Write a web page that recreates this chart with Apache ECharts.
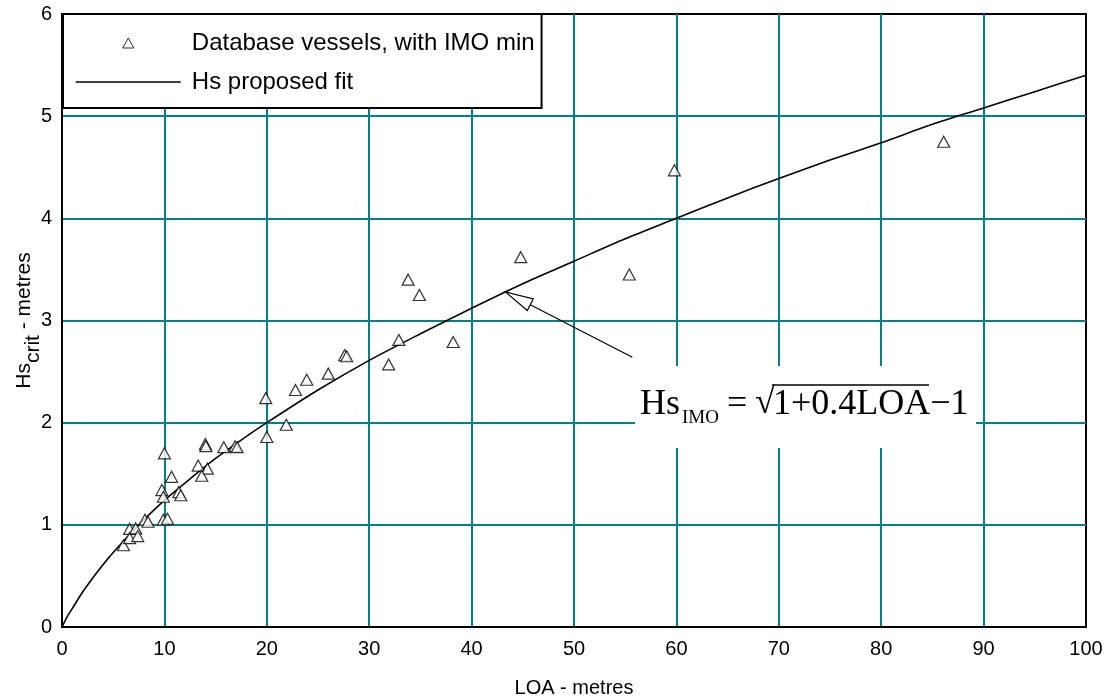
<!DOCTYPE html>
<html><head><meta charset="utf-8">
<script src="https://cdn.jsdelivr.net/npm/echarts@6/dist/echarts.min.js"></script>
<style>html,body{margin:0;padding:0;background:#fff}#c{width:1117px;height:699px}</style>
</head><body><div id="c"></div>
<script>
// ---- data ----
const vesselLOA = [6.0, 6.6, 6.6, 7.2, 7.4, 8.1, 8.4, 9.9, 10.3, 9.75, 9.9, 11.4, 11.6, 10.0, 10.7, 13.3, 14.2, 13.65, 14.0, 14.05, 15.8, 16.9, 17.1, 19.9, 20.0, 21.9, 22.8, 23.9, 26.0, 27.6, 27.8, 31.9, 32.9, 33.8, 34.9, 38.2, 44.8, 55.4, 59.8, 86.1];
const vesselHs  = [0.80, 0.96, 0.87, 0.965, 0.89, 1.05, 1.03, 1.05, 1.06, 1.34, 1.275, 1.32, 1.29, 1.70, 1.47, 1.58, 1.55, 1.48, 1.79, 1.77, 1.76, 1.77, 1.76, 2.24, 1.86, 1.98, 2.32, 2.42, 2.48, 2.66, 2.65, 2.57, 2.81, 3.40, 3.25, 2.79, 3.62, 3.45, 4.47, 4.75];
const fitLOA = [0, 0.5, 1, 2, 3, 4, 5, 6, 8, 10, 12.5, 15, 17.5, 20, 25, 30, 35, 40, 45, 50, 55, 60, 65, 70, 75, 80, 85, 90, 95, 100];
const fitHs  = [0, 0.10, 0.18, 0.34, 0.48, 0.61, 0.73, 0.84, 1.05, 1.24, 1.45, 1.65, 1.83, 2.00, 2.32, 2.61, 2.87, 3.12, 3.36, 3.58, 3.80, 4.00, 4.20, 4.39, 4.57, 4.74, 4.92, 5.08, 5.24, 5.40];
const xRange = [0, 100, 10];   // min, max, step
const yRange = [0, 6, 1];
const seriesNames = ['Database vessels, with IMO min', 'Hs proposed fit'];
const arrowTail = [55.7, 2.64];
const arrowHead = [43.3, 3.28];

const chart = echarts.init(document.getElementById('c'), null, {renderer: 'canvas'});
const sans = 'Liberation Sans';
const serif = 'Liberation Serif';
const teal = '#008080';

const option = {
  animation: false,
  backgroundColor: '#fff',
  grid: {left: 62, top: 14, width: 1024, height: 613, outerBoundsMode: 'none', containLabel: false,
         show: true, borderColor: '#000', borderWidth: 2, backgroundColor: 'transparent'},
  legend: {
    left: 63, top: 14, orient: 'vertical',
    backgroundColor: '#fff', borderColor: '#000', borderWidth: 2,
    padding: [17, 7, 14, 12],
    itemWidth: 105, itemHeight: 10, itemGap: 15,
    symbolKeepAspect: true,
    textStyle: {fontSize: 24, fontFamily: sans, color: '#000', padding: [0, 0, 0, 6]},
    data: [
      {name: seriesNames[0], icon: 'path://M5,0L10,9L0,9Z', itemStyle: {color: '#fff', borderColor: '#000', borderWidth: 1}},
      {name: seriesNames[1], itemStyle: {color: 'rgba(0,0,0,0)', opacity: 0, borderWidth: 0}, lineStyle: {color: '#000', width: 1.6}}
    ]
  },
  xAxis: {
    type: 'value', min: xRange[0], max: xRange[1], interval: xRange[2],
    axisLine: {show: true, onZero: false, lineStyle: {color: '#000', width: 2}},
    axisTick: {show: false},
    axisLabel: {color: '#000', fontSize: 20, fontFamily: sans, margin: 12},
    splitLine: {show: true, showMinLine: false, showMaxLine: false, lineStyle: {color: teal, width: 2}},
    name: 'LOA - metres', nameLocation: 'middle', nameGap: 51, nameMoveOverlap: false,
    nameTextStyle: {color: '#000', fontSize: 20, fontFamily: sans}
  },
  yAxis: {
    type: 'value', min: yRange[0], max: yRange[1], interval: yRange[2],
    axisLine: {show: true, onZero: false, lineStyle: {color: '#000', width: 2}},
    axisTick: {show: false},
    axisLabel: {color: '#000', fontSize: 20, fontFamily: sans, margin: 10},
    splitLine: {show: true, showMinLine: false, showMaxLine: false, lineStyle: {color: teal, width: 2}},
    name: '{a|Hs}{b|crit}{a| - metres}', nameLocation: 'middle', nameGap: 18, nameMoveOverlap: false,
    nameTextStyle: {
      color: '#000', fontSize: 21, fontFamily: sans,
      rich: {
        a: {fontSize: 21, fontFamily: sans, color: '#000', lineHeight: 30, verticalAlign: 'top'},
        b: {fontSize: 21, fontFamily: sans, color: '#000', lineHeight: 20, verticalAlign: 'bottom'}
      }
    }
  },
  series: [
    {
      name: seriesNames[0], type: 'scatter', symbol: 'triangle', symbolSize: [12, 11],
      symbolKeepAspect: true,
      itemStyle: {color: '#fff', borderColor: '#000', borderWidth: 1.2},
      data: vesselLOA.map((x, i) => [x, vesselHs[i]]), z: 5
    },
    {
      name: seriesNames[1], type: 'line', showSymbol: false, symbol: 'none', smooth: 0.3,
      lineStyle: {color: '#000', width: 1.6}, itemStyle: {color: '#000'},
      data: fitLOA.map((x, i) => [x, fitHs[i]]), z: 4
    }
  ]
};
chart.setOption(option);

// annotation: arrow and equation
const pT = chart.convertToPixel({gridIndex: 0}, arrowTail);
const pH = chart.convertToPixel({gridIndex: 0}, arrowHead);
const dx = pT[0] - pH[0], dy = pT[1] - pH[1];
const L = Math.sqrt(dx * dx + dy * dy);
const ux = dx / L, uy = dy / L, nx = -uy, ny = ux;
const headLen = 28, headHalf = 6.5;
const bx = pH[0] + ux * headLen, by = pH[1] + uy * headLen;

const eqFont = '36px "' + serif + '"';
chart.setOption({
  graphic: [
    {type: 'line', z: 20, shape: {x1: bx, y1: by, x2: pT[0], y2: pT[1]}, style: {stroke: '#000', lineWidth: 1.2}},
    {type: 'polygon', z: 20, shape: {points: [[pH[0], pH[1]], [bx + nx * headHalf, by + ny * headHalf], [bx - nx * headHalf, by - ny * headHalf]]},
      style: {fill: '#fff', stroke: '#000', lineWidth: 1.2}},
    {type: 'rect', z: 20, shape: {x: 635, y: 366, width: 341, height: 82}, style: {fill: '#fff'}},
    {type: 'text', z: 21, x: 640, y: 405, style: {text: 'Hs', font: eqFont, fill: '#000', align: 'left', verticalAlign: 'middle'}},
    {type: 'text', z: 21, x: 682, y: 418, style: {text: 'IMO', font: '19px "' + serif + '"', fill: '#000', align: 'left', verticalAlign: 'middle'}},
    {type: 'text', z: 21, x: 727, y: 405, style: {text: '=', font: eqFont, fill: '#000', align: 'left', verticalAlign: 'middle'}},
    {type: 'text', z: 21, x: 755, y: 404, style: {text: '\u221A', font: eqFont, fill: '#000', align: 'left', verticalAlign: 'middle'}},
    {type: 'line', z: 21, shape: {x1: 772, y1: 385, x2: 929, y2: 385}, style: {stroke: '#000', lineWidth: 1.5}},
    {type: 'text', z: 21, x: 773, y: 405, style: {text: '1+0.4LOA\u22121', font: eqFont, fill: '#000', align: 'left', verticalAlign: 'middle'}}
  ]
});
</script></body></html>
